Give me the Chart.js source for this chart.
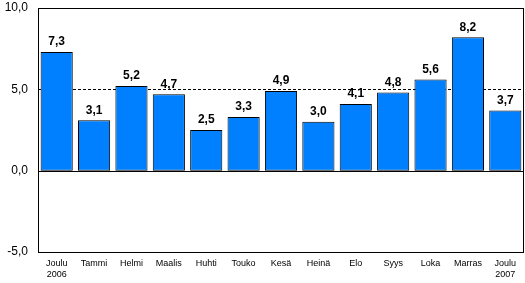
<!DOCTYPE html>
<html>
<head>
<meta charset="utf-8">
<script src="https://cdn.jsdelivr.net/npm/chart.js@4.4.0/dist/chart.umd.min.js"></script>
<style>
  html, body { margin: 0; padding: 0; background: #fff; }
  #wrap { width: 525px; height: 283px; }
</style>
</head>
<body>
<div id="wrap"><canvas id="chart"></canvas></div>
<script>
// Monthly values, Dec 2006 - Dec 2007
const months = [
    ['Joulu', '2006'], 'Tammi', 'Helmi', 'Maalis', 'Huhti', 'Touko',
    'Kesä', 'Heinä', 'Elo', 'Syys', 'Loka', 'Marras', ['Joulu', '2007']
];
const values = [7.3, 3.1, 5.2, 4.7, 2.5, 3.3, 4.9, 3.0, 4.1, 4.8, 5.6, 8.2, 3.7];
const yTicks = [-5, 0, 5, 10];

function fmt(v) {
    return v.toFixed(1).replace('.', ',');
}

// dashed line at 5, zero line, frame and bar labels
const decorations = {
    id: 'decorations',
    beforeDatasetsDraw: function (chart) {
        const ctx = chart.ctx;
        const area = chart.chartArea;
        const y = Math.round(chart.scales.y.getPixelForValue(5)) + 0.5;
        ctx.save();
        ctx.strokeStyle = '#000';
        ctx.lineWidth = 1;
        ctx.setLineDash([3, 2]);
        ctx.beginPath();
        ctx.moveTo(area.left, y);
        ctx.lineTo(area.right, y);
        ctx.stroke();
        ctx.restore();
    },
    afterDatasetsDraw: function (chart) {
        const ctx = chart.ctx;
        const area = chart.chartArea;
        const y0 = Math.round(chart.scales.y.getPixelForValue(0)) + 0.5;
        ctx.save();
        ctx.strokeStyle = '#000';
        ctx.lineWidth = 1;
        ctx.beginPath();
        ctx.moveTo(area.left, y0);
        ctx.lineTo(area.right, y0);
        ctx.stroke();
        ctx.strokeRect(Math.round(area.left) + 0.5, Math.round(area.top) + 0.5,
            Math.round(area.right - area.left) - 1, Math.round(area.bottom - area.top));

        // value labels
        ctx.fillStyle = '#000';
        ctx.font = 'bold 12px "Liberation Sans", Arial, sans-serif';
        ctx.textAlign = 'center';
        ctx.textBaseline = 'bottom';
        chart.getDatasetMeta(0).data.forEach(function (bar, i) {
            ctx.fillText(fmt(values[i]), bar.x, bar.y - 4);
        });
        ctx.restore();
    }
};

new Chart(document.getElementById('chart'), {
    type: 'bar',
    data: {
        labels: months,
        datasets: [{
            data: values,
            backgroundColor: '#0080FF',
            borderColor: '#000',
            borderWidth: 1,
            borderSkipped: false,
            barPercentage: 0.86,
            categoryPercentage: 1.0
        }]
    },
    options: {
        responsive: true,
        maintainAspectRatio: false,
        animation: false,
        layout: { autoPadding: false, padding: { top: 0, right: 1, left: 0, bottom: 0 } },
        plugins: {
            legend: { display: false },
            tooltip: { enabled: false }
        },
        scales: {
            x: {
                grid: { display: false, drawTicks: false },
                border: { display: false },
                afterFit: function (scale) { scale.height = 31; },
                ticks: {
                    color: '#000',
                    padding: 6,
                    maxRotation: 0,
                    autoSkip: false,
                    font: { family: '"Liberation Sans", Arial, sans-serif', size: 9, lineHeight: 1.2 }
                }
            },
            y: {
                min: -5,
                max: 10,
                afterFit: function (scale) {
                    scale.width = 38;
                    // tick padding would otherwise push the plot down
                    scale.paddingTop = 8;
                    scale.paddingBottom = 0;
                },
                afterBuildTicks: function (scale) {
                    scale.ticks = yTicks.map(function (v) { return { value: v }; });
                },
                grid: { display: false, drawTicks: false },
                border: { display: false },
                ticks: {
                    color: '#000',
                    padding: 10,
                    callback: function (v) { return fmt(v); },
                    font: { family: '"Liberation Sans", Arial, sans-serif', size: 12 }
                }
            }
        }
    },
    plugins: [decorations]
});
</script>
</body>
</html>
